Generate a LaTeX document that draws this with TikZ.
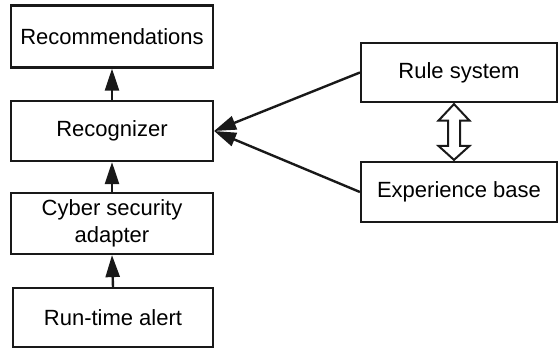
\documentclass[tikz,border=0pt]{standalone}
\usepackage{fontspec}
\setmainfont{Liberation Sans}
\usetikzlibrary{arrows.meta,calc}
\begin{document}
\begin{tikzpicture}[x=1pt,y=-1pt,
  box/.style={draw=black!90, line width=2.2pt, fill=white, inner sep=0pt,
    align=center, font=\fontsize{22}{27}\selectfont},
  link/.style={draw=black!90, line width=2.4pt,
    -{Triangle[length=22pt 0 0,width=14pt 0 0]}}]
  \useasboundingbox (0,0) rectangle (558,348);
  % left column
  \node[box, minimum width=202pt, minimum height=62pt] (rec) at (112,36.5) {Recommendations};
  \node[box, minimum width=202pt, minimum height=60pt] (rzr) at (112,131) {Recognizer};
  \node[box, minimum width=202pt, minimum height=61pt] (csa) at (112,223.5) {Cyber security\\adapter};
  \node[box, minimum width=200pt, minimum height=59pt] (rta) at (113,317.5) {Run-time alert};
  % right column
  \node[box, minimum width=196pt, minimum height=59pt] (rule) at (459,72.5) {Rule system};
  \node[box, minimum width=196pt, minimum height=60pt] (exp) at (459,192) {Experience base};
  % flow upwards
  \draw[link] (rta.north) -- (csa.south);
  \draw[link] (csa.north) -- (rzr.south);
  \draw[link] (rzr.north) -- (rec.south);
  % knowledge sources into the recognizer
  \draw[link] (rule.west) -- (rzr.east);
  \draw[link] (exp.west) -- (rzr.east);
  % two-way exchange between rule system and experience base
  \coordinate (ta) at ($(rule.south)+(-5,1)$);
  \coordinate (tb) at ($(exp.north)+(-5,-1)$);
  \draw[line width=2pt, draw=black!90, fill=white, line join=miter]
    (ta) -- ++(-15.5,16.5) -- ++(9.5,0) -- ($(tb)+(-6,-14)$) -- ++(-9.5,0)
    -- (tb) -- ++(15.5,-14) -- ++(-9.5,0) -- ($(ta)+(6,16.5)$) -- ++(9.5,0) -- cycle;
\end{tikzpicture}
\end{document}
